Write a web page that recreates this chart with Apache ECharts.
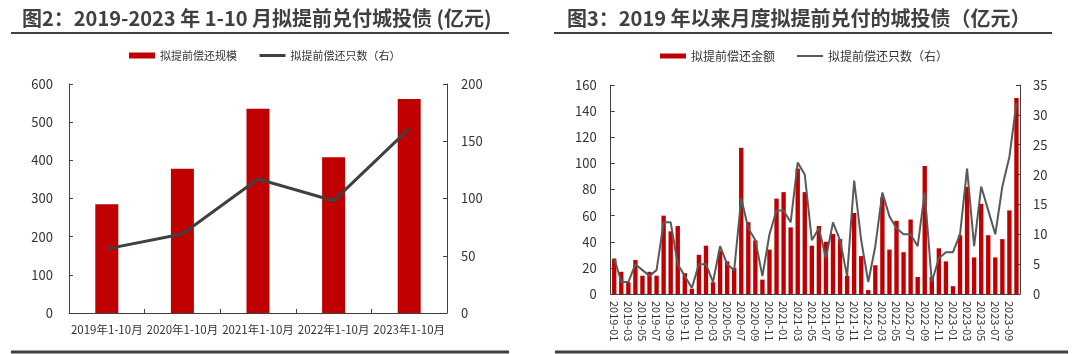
<!DOCTYPE html>
<html><head><meta charset="utf-8">
<script src="https://cdn.jsdelivr.net/npm/echarts@6/dist/echarts.min.js"></script>
<style>html,body{margin:0;padding:0;background:#fff}#wrap{width:1080px;height:354px;position:relative}#c1,#c2{position:absolute;top:0;width:540px;height:354px}#c1{left:0}#c2{left:540px}</style>
</head><body><div id="wrap"><div id="c1"></div><div id="c2"></div></div>
<script>
// ---- Chart 1 data ----
const yearCats = ['2019年1-10月','2020年1-10月','2021年1-10月','2022年1-10月','2023年1-10月'];
const yearScale = [285, 378, 535, 408, 561];
const yearCount = [56, 69, 117, 98, 161];

// ---- Chart 2 data ----
const months = ['2019-01','2019-02','2019-03','2019-04','2019-05','2019-06','2019-07','2019-08','2019-09','2019-10','2019-11','2019-12',
'2020-01','2020-02','2020-03','2020-04','2020-05','2020-06','2020-07','2020-08','2020-09','2020-10','2020-11','2020-12',
'2021-01','2021-02','2021-03','2021-04','2021-05','2021-06','2021-07','2021-08','2021-09','2021-10','2021-11','2021-12',
'2022-01','2022-02','2022-03','2022-04','2022-05','2022-06','2022-07','2022-08','2022-09','2022-10','2022-11','2022-12',
'2023-01','2023-02','2023-03','2023-04','2023-05','2023-06','2023-07','2023-08','2023-09','2023-10'];
const monthAmount = [27,17,9,26,14,17,14,60,48,52,16,4,
30,37,9,33,25,20,112,55,41,11,34,73,
78,51,96,78,37,52,40,46,42,14,62,29,
3,22,74,34,56,32,57,13,98,13,35,25,
6,45,82,28,69,45,28,42,64,150];
const monthCount = [6,2,2,5,4,3,4,12,12,5,3,1,
5,5,2,8,5,4,16,11,9,3,10,14,
14,12,22,20,9,11,6,12,9,3,19,9,
2,8,17,13,11,10,10,8,17,2,6,7,
7,10,21,8,18,14,10,18,23,32];

// ---- tick settings ----
const leftTicks1 = {min:0, max:600, interval:100};
const rightTicks1 = {min:0, max:200, interval:50};
const leftTicks2 = {min:0, max:160, interval:20};
const rightTicks2 = {min:0, max:35, interval:5};

const FONT = '"Noto Sans CJK SC", "Noto Sans", sans-serif';
const RED = '#c00000';
const TXT = '#333333';
const AX = '#404040';

function hline(x1, x2, y, w) {
  return {type:'line', shape:{x1:x1, y1:y, x2:x2, y2:y}, style:{stroke:'#404040', lineWidth:w}, silent:true};
}

function yAx(t, pos, margin, fs) {
  return Object.assign({
    type:'value', position:pos,
    axisLine:{show:true, lineStyle:{color:AX, width:1}},
    axisTick:{show:true, inside:true, length:4, lineStyle:{color:AX}},
    axisLabel:{color:TXT, fontSize:fs, margin:margin, fontFamily:FONT},
    splitLine:{show:false}
  }, t);
}

const c1 = echarts.init(document.getElementById('c1'));
c1.setOption({
  animation:false,
  textStyle:{fontFamily:FONT},
  title:{text:'图2：2019-2023 年 1-10 月拟提前兑付城投债 (亿元)', left:22, top:8, padding:0,
    textStyle:{fontSize:20, fontWeight:'bold', color:'#404040', fontFamily:FONT}},
  graphic:[hline(11, 509, 33, 2), hline(11, 509, 352, 3)],
  legend:{left:129, top:50, padding:0, itemGap:21, itemWidth:26, itemHeight:6,
    textStyle:{fontSize:11, color:TXT, fontFamily:FONT},
    data:[{name:'拟提前偿还规模', icon:'rect'},
          {name:'拟提前偿还只数（右）', itemStyle:{opacity:0}, lineStyle:{width:3, color:'#404040'}}]},
  grid:{left:69, top:84, width:378, height:229},
  xAxis:{type:'category', data:yearCats,
    axisLine:{lineStyle:{color:AX, width:1}},
    axisTick:{show:true, inside:true, length:4, lineStyle:{color:AX}},
    axisLabel:{color:TXT, fontSize:11.5, margin:11, interval:0, hideOverlap:false, fontFamily:FONT}},
  yAxis:[yAx(leftTicks1, 'left', 16, 13), yAx(rightTicks1, 'right', 14, 13)],
  series:[
    {name:'拟提前偿还规模', type:'bar', data:yearScale, barWidth:23, itemStyle:{color:RED}},
    {name:'拟提前偿还只数（右）', type:'line', yAxisIndex:1, data:yearCount, symbol:'none',
      lineStyle:{color:'#404040', width:3}, itemStyle:{color:'#404040'}}
  ]
});

const c2 = echarts.init(document.getElementById('c2'));
c2.setOption({
  animation:false,
  textStyle:{fontFamily:FONT},
  title:{text:'图3：2019 年以来月度拟提前兑付的城投债（亿元）', left:27, top:8, padding:0,
    textStyle:{fontSize:20, fontWeight:'bold', color:'#404040', fontFamily:FONT}},
  graphic:[hline(14, 512, 33, 2), hline(15, 528, 352, 3)],
  legend:{left:120, top:50, padding:0, itemGap:21, itemWidth:26, itemHeight:5,
    textStyle:{fontSize:12, color:TXT, fontFamily:FONT},
    data:[{name:'拟提前偿还金额', icon:'rect'},
          {name:'拟提前偿还只数（右）', itemStyle:{opacity:0}, lineStyle:{width:2, color:'#595959'}}]},
  grid:{left:70.7, top:85, width:409.3, height:209},
  xAxis:{type:'category', data:months,
    axisLine:{lineStyle:{color:AX, width:1}},
    axisTick:{show:false},
    axisLabel:{color:TXT, fontSize:11, margin:7, rotate:-90, interval:1, fontFamily:FONT}},
  yAxis:[yAx(leftTicks2, 'left', 14, 13), yAx(rightTicks2, 'right', 13, 13)],
  series:[
    {name:'拟提前偿还金额', type:'bar', data:monthAmount, barWidth:'62%', itemStyle:{color:RED}},
    {name:'拟提前偿还只数（右）', type:'line', yAxisIndex:1, data:monthCount, symbol:'none',
      lineStyle:{color:'#595959', width:2}, itemStyle:{color:'#595959'}}
  ]
});
</script>
</body></html>
